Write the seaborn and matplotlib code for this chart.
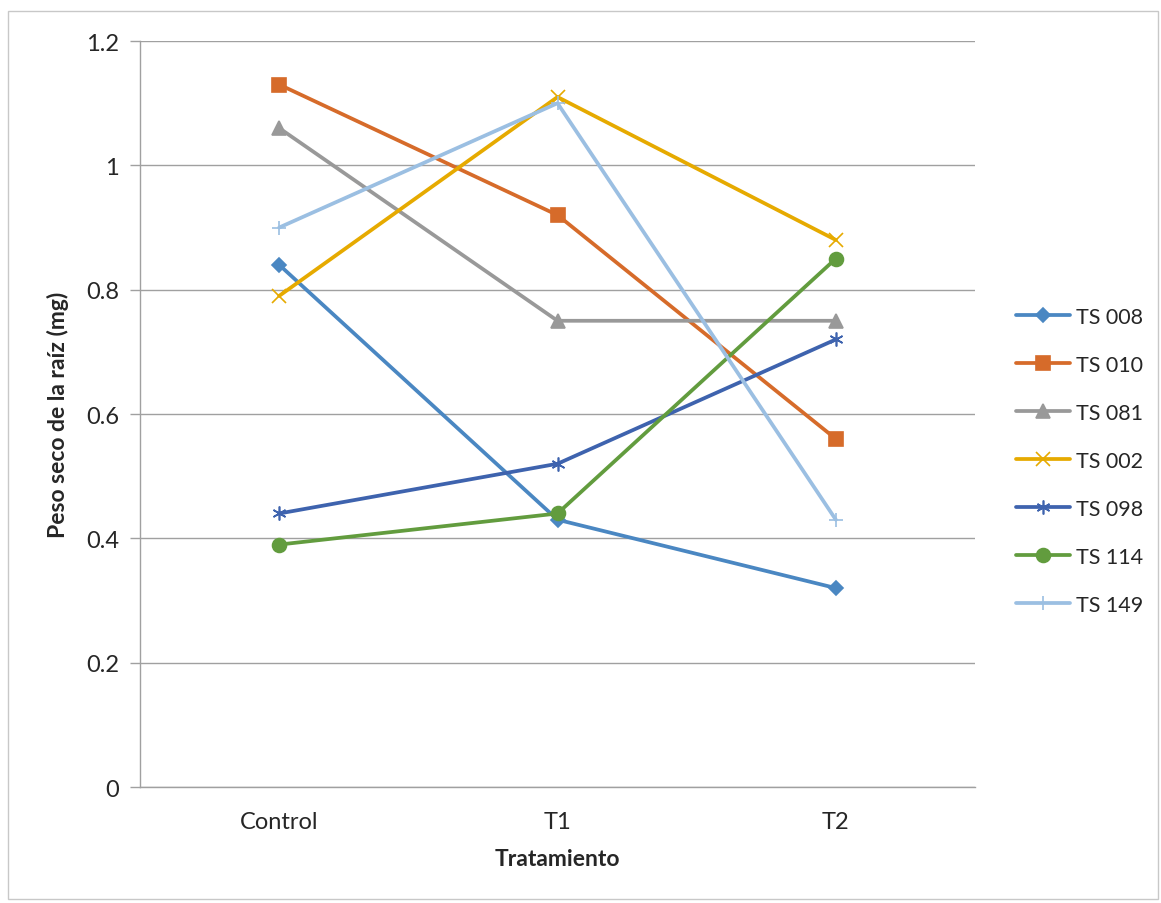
import numpy as np
import pandas as pd
import matplotlib
matplotlib.use("Agg")
import matplotlib.pyplot as plt
import seaborn as sns
from matplotlib.patches import Rectangle

# datos
tratamientos = ["Control", "T1", "T2"]
lineas = ["TS 008", "TS 010", "TS 081", "TS 002", "TS 098", "TS 114", "TS 149"]
ts008 = [0.84, 0.43, 0.32]
ts010 = [1.13, 0.92, 0.56]
ts081 = [1.06, 0.75, 0.75]
ts002 = [0.79, 1.11, 0.88]
ts098 = [0.44, 0.52, 0.72]
ts114 = [0.39, 0.44, 0.85]
ts149 = [0.90, 1.10, 0.43]
valores = [ts008, ts010, ts081, ts002, ts098, ts114, ts149]

colores = ["#4A87C2", "#D66B2A", "#999999", "#E6AA00", "#3E63AE", "#629C3E", "#9BBFE2"]
marcadores = ["D", "s", "^", "x", (6, 2, 0), "o", "+"]
tam = [7, 10, 10, 10, 10, 10, 10]

sns.set_style("white")
plt.rcParams["font.family"] = ["Lato", "DejaVu Sans"]

fig = plt.figure(figsize=(11.61, 9.04), dpi=100)
ax = fig.add_axes([0.1206, 0.1283, 0.7192, 0.8252])

for nombre, vals, c, m, s in zip(lineas, valores, colores, marcadores, tam):
    df = pd.DataFrame({"Tratamiento": tratamientos, "Peso": vals})
    sns.lineplot(data=df, x="Tratamiento", y="Peso", ax=ax, color=c, marker=m,
                 markersize=s, markeredgecolor=c, markerfacecolor=c,
                 markeredgewidth=1.2, linewidth=2.7, label=nombre, sort=False)

ax.set_xlim(-0.5, 2.5)
ax.set_ylim(0, 1.2)
ax.set_yticks(np.arange(0, 1.21, 0.2))
ax.set_yticklabels(["0", "0.2", "0.4", "0.6", "0.8", "1", "1.2"])
ax.set_xticks([0, 1, 2])
ax.set_xticks([-0.5, 0.5, 1.5, 2.5], minor=True)
ax.tick_params(axis="x", which="major", length=0, pad=17, labelsize=17)
ax.tick_params(axis="x", which="minor", length=7, color="#a0a0a0", width=1)
ax.tick_params(axis="y", length=7, color="#a0a0a0", width=1, pad=8, labelsize=17,
               left=True)
ax.grid(axis="y", color="#a0a0a0", linewidth=1)
ax.grid(axis="x", visible=False)
for lado in ["top", "right"]:
    ax.spines[lado].set_visible(False)
for lado in ["left", "bottom"]:
    ax.spines[lado].set_color("#a0a0a0")
    ax.spines[lado].set_linewidth(1)

ax.set_xlabel("Tratamiento", fontsize=16.5, fontweight="bold", labelpad=12)
ax.set_ylabel("Peso seco de la raíz (mg)", fontsize=16.5, fontweight="bold", labelpad=12)

handles, labels = ax.get_legend_handles_labels()
ax.get_legend().remove()
fig.legend(handles, labels, loc="center left", bbox_to_anchor=(0.858, 0.489),
           frameon=False, fontsize=15.5, labelspacing=1.3, handlelength=2.55,
           handletextpad=0.25)

# marco exterior
fig.patches.append(Rectangle((0.007, 0.004), 0.99, 0.983, transform=fig.transFigure,
                             fill=False, edgecolor="#c8c8c8", linewidth=1))

fig.savefig("out.png", dpi=100)
